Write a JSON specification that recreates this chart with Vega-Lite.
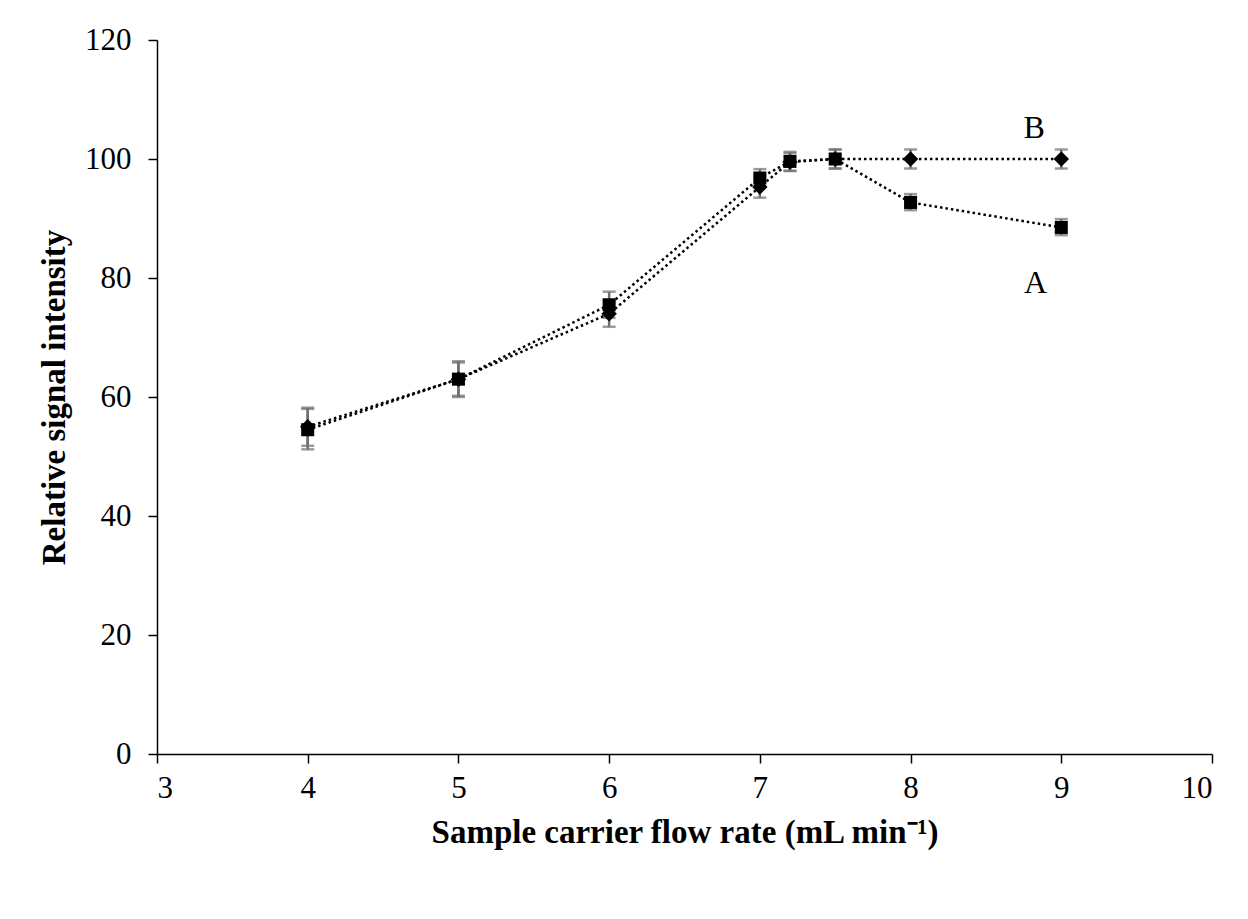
{
  "$schema": "https://vega.github.io/schema/vega-lite/v6.json",
  "autosize": "none",
  "width": 1055,
  "height": 714,
  "padding": {"left": 157, "top": 40, "right": 36, "bottom": 165},
  "background": "white",
  "config": {
    "view": {"stroke": null},
    "font": "Liberation Serif",
    "axis": {
      "grid": false,
      "domainColor": "black",
      "domainWidth": 1.5,
      "tickColor": "black",
      "tickWidth": 1.5,
      "tickSize": 9,
      "labelFont": "Liberation Serif",
      "labelFontSize": 31,
      "labelColor": "black",
      "titleFont": "Liberation Serif",
      "titleFontSize": 33,
      "titleFontWeight": "bold",
      "titleColor": "black"
    }
  },
  "data": {
    "values": [
      {"x": 4, "s": "A", "y": 54.5, "lo": 51.2, "hi": 58.0},
      {"x": 5, "s": "A", "y": 63.0, "lo": 60.0, "hi": 66.0},
      {"x": 6, "s": "A", "y": 75.5, "lo": 73.3, "hi": 77.7},
      {"x": 7, "s": "A", "y": 96.8, "lo": 95.3, "hi": 98.3},
      {"x": 7.2, "s": "A", "y": 99.6, "lo": 98.0, "hi": 101.2},
      {"x": 7.5, "s": "A", "y": 100.0, "lo": 98.4, "hi": 101.6},
      {"x": 8, "s": "A", "y": 92.7, "lo": 91.4, "hi": 94.1},
      {"x": 9, "s": "A", "y": 88.5, "lo": 87.2, "hi": 89.9},
      {"x": 4, "s": "B", "y": 55.0, "lo": 51.8, "hi": 58.2},
      {"x": 5, "s": "B", "y": 63.0, "lo": 60.2, "hi": 65.8},
      {"x": 6, "s": "B", "y": 74.0, "lo": 71.8, "hi": 76.2},
      {"x": 7, "s": "B", "y": 95.3, "lo": 93.5, "hi": 97.1},
      {"x": 7.2, "s": "B", "y": 99.5, "lo": 98.0, "hi": 101.0},
      {"x": 7.5, "s": "B", "y": 100.0, "lo": 98.4, "hi": 101.6},
      {"x": 8, "s": "B", "y": 100.0, "lo": 98.4, "hi": 101.6},
      {"x": 9, "s": "B", "y": 100.0, "lo": 98.4, "hi": 101.6}
    ]
  },
  "layer": [
    {
      "mark": {"type": "errorbar", "orient": "vertical", "color": "#707070", "thickness": 2.5, "ticks": {"size": 13, "color": "#707070", "thickness": 2.5}},
      "encoding": {
        "x": {"field": "x", "type": "quantitative", "scale": {"domain": [3, 10]},
          "axis": {"values": [3,4,5,6,7,8,9,10], "format": "d", "title": "Sample carrier flow rate (mL min⁻¹)", "labelPadding": 10, "titleY": 78, "titleBaseline": "middle"}},
        "y": {"field": "lo", "type": "quantitative", "scale": {"domain": [0, 120]},
          "axis": {"values": [0,20,40,60,80,100,120], "title": "Relative signal intensity", "labelPadding": 17, "titleX": -103, "titleBaseline": "middle"}},
        "y2": {"field": "hi"}
      }
    },
    {
      "mark": {"type": "line", "color": "black", "strokeWidth": 2.5, "strokeDash": [2.5, 3]},
      "encoding": {
        "x": {"field": "x", "type": "quantitative"},
        "y": {"field": "y", "type": "quantitative"},
        "detail": {"field": "s"}
      }
    },
    {
      "mark": {"type": "point", "filled": true, "color": "black", "opacity": 1},
      "encoding": {
        "x": {"field": "x", "type": "quantitative"},
        "y": {"field": "y", "type": "quantitative"},
        "shape": {"field": "s", "type": "nominal", "scale": {"domain": ["A", "B"], "range": ["square", "diamond"]}, "legend": null},
        "size": {"field": "s", "type": "nominal", "scale": {"domain": ["A", "B"], "range": [170, 240]}, "legend": null}
      }
    },
    {
      "data": {"values": [{"x": 8.83, "y": 79.2, "t": "A"}, {"x": 8.82, "y": 105.2, "t": "B"}]},
      "mark": {"type": "text", "font": "Liberation Serif", "fontSize": 32, "color": "black", "align": "center", "baseline": "middle"},
      "encoding": {
        "x": {"field": "x", "type": "quantitative"},
        "y": {"field": "y", "type": "quantitative"},
        "text": {"field": "t"}
      }
    }
  ]
}
